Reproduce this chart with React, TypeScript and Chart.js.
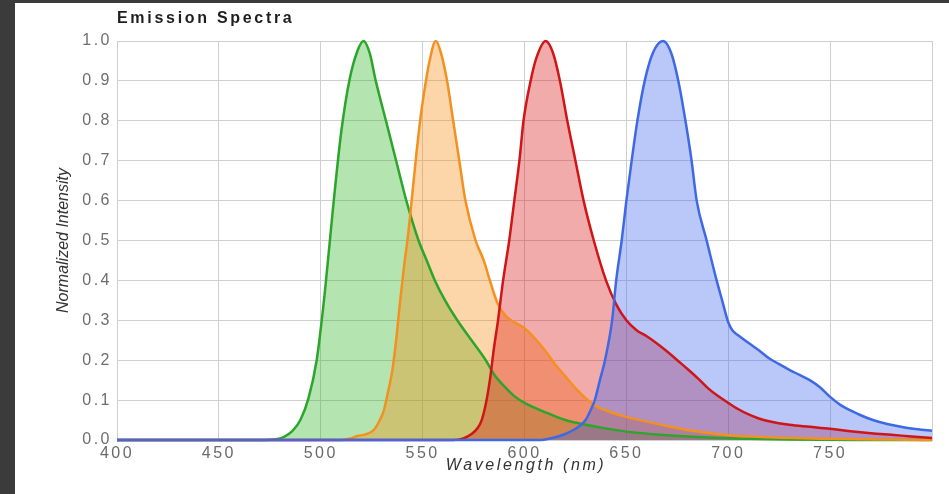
import React, { useEffect, useRef } from 'react';
import { Chart, registerables } from 'chart.js';

Chart.register(...registerables);

const TITLE = 'Emission Spectra';
const X_TITLE = 'Wavelength (nm)';
const Y_TITLE = 'Normalized Intensity';

const X_MIN = 400;
const X_MAX = 800;
const X_STEP = 50;
const Y_MIN = 0;
const Y_MAX = 1;
const Y_STEP = 0.1;

// Green series
const greenNm = [400, 470, 478, 482, 486, 490, 494, 498, 502, 506, 510, 514, 518, 521, 524, 527, 532, 537, 542, 548, 552, 556, 561, 567, 574, 581, 585, 590, 595, 600, 610, 620, 630, 640, 650, 670, 690, 710, 730, 760, 800];
const greenVal = [0, 0, 0.002, 0.008, 0.022, 0.05, 0.105, 0.2, 0.37, 0.58, 0.77, 0.9, 0.975, 1.0, 0.97, 0.9, 0.8, 0.7, 0.6, 0.5, 0.45, 0.4, 0.35, 0.3, 0.25, 0.2, 0.165, 0.135, 0.11, 0.093, 0.07, 0.05, 0.038, 0.029, 0.021, 0.012, 0.006, 0.003, 0.001, 0, 0];

// Orange series
const orangeNm = [400, 510, 514, 518, 522, 526, 529, 531, 533, 535, 537, 539, 541, 543, 545, 547, 549, 551, 553, 556.5, 559, 562, 565, 568, 571, 576, 580, 583, 587, 591, 595, 600, 605, 610, 615, 620, 625, 630, 635, 640, 650, 660, 670, 680, 690, 700, 720, 750, 780, 800];
const orangeVal = [0, 0, 0.003, 0.01, 0.014, 0.025, 0.05, 0.075, 0.12, 0.17, 0.25, 0.35, 0.44, 0.52, 0.62, 0.72, 0.81, 0.88, 0.94, 1.0, 0.97, 0.9, 0.8, 0.7, 0.6, 0.5, 0.45, 0.4, 0.34, 0.31, 0.295, 0.28, 0.255, 0.225, 0.19, 0.16, 0.13, 0.105, 0.085, 0.074, 0.058, 0.046, 0.035, 0.025, 0.018, 0.012, 0.007, 0.003, 0.001, 0];

// Red series
const redNm = [400, 565, 570, 574, 577, 579, 581, 583, 585, 587, 589.5, 592.5, 595, 597.5, 599.5, 603, 606, 610.4, 614, 617.4, 621, 625, 629, 634, 640, 645, 650, 655, 660, 665, 670, 675, 680, 685, 690, 695, 700, 705, 710, 715, 720, 730, 740, 750, 760, 770, 780, 790, 800];
const redVal = [0, 0, 0.004, 0.015, 0.03, 0.05, 0.09, 0.15, 0.23, 0.3, 0.4, 0.5, 0.6, 0.7, 0.8, 0.9, 0.96, 1.0, 0.97, 0.9, 0.8, 0.7, 0.6, 0.5, 0.4, 0.34, 0.3, 0.275, 0.26, 0.242, 0.222, 0.2, 0.178, 0.155, 0.13, 0.11, 0.093, 0.077, 0.064, 0.054, 0.047, 0.038, 0.033, 0.028, 0.022, 0.017, 0.013, 0.009, 0.005];

// Blue series
const blueNm = [400, 608, 612, 616, 620, 624, 627, 630, 632, 634.5, 637, 639.5, 643, 645, 647.7, 650, 652.6, 655.4, 659, 663, 668, 672, 675.5, 679, 682, 684.5, 689.4, 694.3, 697, 700, 702, 705, 710, 715, 720, 725, 730, 735, 740, 745, 750, 755, 760, 765, 771, 778, 786, 793, 800];
const blueVal = [0, 0, 0.003, 0.008, 0.015, 0.025, 0.035, 0.05, 0.07, 0.1, 0.15, 0.2, 0.3, 0.4, 0.5, 0.6, 0.7, 0.8, 0.9, 0.97, 1.0, 0.97, 0.9, 0.8, 0.7, 0.6, 0.5, 0.4, 0.35, 0.295, 0.275, 0.262, 0.243, 0.225, 0.205, 0.19, 0.176, 0.163, 0.15, 0.132, 0.108, 0.088, 0.074, 0.062, 0.05, 0.04, 0.032, 0.027, 0.023];

const FONT = 'Arial, "Liberation Sans", sans-serif';

function toPoints(xs: number[], ys: number[]) {
  return xs.map((x, i) => ({ x, y: ys[i] }));
}

const textPlugin = {
  id: 'customText',
  beforeDraw(chart: any) {
    (chart.ctx as any).letterSpacing = '2.5px';
  },
  afterDraw(chart: any) {
    const { ctx, chartArea } = chart;
    ctx.save();
    (ctx as any).letterSpacing = '2.7px';
    ctx.fillStyle = '#1e1e1e';
    ctx.font = `bold 16px ${FONT}`;
    ctx.textAlign = 'left';
    ctx.textBaseline = 'middle';
    ctx.fillText(TITLE, chartArea.left, 16);

    ctx.fillStyle = '#333333';
    ctx.font = `italic 16px ${FONT}`;
    ctx.textAlign = 'center';
    (ctx as any).letterSpacing = '2.6px';
    ctx.fillText(X_TITLE, (chartArea.left + chartArea.right) / 2 + 1.5, 463);

    (ctx as any).letterSpacing = '0px';
    ctx.translate(49, (chartArea.top + chartArea.bottom) / 2);
    ctx.rotate(-Math.PI / 2);
    ctx.font = `italic 16px ${FONT}`;
    ctx.fillText(Y_TITLE, 0, 0);
    ctx.restore();
  },
};

function makeDataset(xs: number[], ys: number[], line: string, fill: string, order: number) {
  return {
    data: toPoints(xs, ys),
    borderColor: line,
    backgroundColor: fill,
    borderWidth: 2.5,
    pointRadius: 0,
    fill: 'origin',
    cubicInterpolationMode: 'monotone' as const,
    clip: false as any,
    order,
  };
}

export default function App() {
  const canvasRef = useRef<HTMLCanvasElement | null>(null);

  useEffect(() => {
    if (!canvasRef.current) return;
    const chart = new Chart(canvasRef.current, {
      type: 'line',
      data: {
        datasets: [
          makeDataset(greenNm, greenVal, '#2ca52c', 'rgba(40,180,30,0.35)', 3),
          makeDataset(orangeNm, orangeVal, '#f39020', 'rgba(246,135,10,0.35)', 2),
          makeDataset(redNm, redVal, '#cf1518', 'rgba(218,15,15,0.35)', 1),
          makeDataset(blueNm, blueVal, '#3f69e4', 'rgba(55,98,235,0.35)', 0),
        ],
      },
      options: {
        responsive: false,
        animation: false,
        devicePixelRatio: 1,
        layout: { padding: { left: 0, top: 38, right: 17, bottom: 0 } },
        plugins: {
          legend: { display: false },
          tooltip: { enabled: false },
          title: { display: false },
          filler: { drawTime: 'beforeDatasetsDraw' },
        },
        scales: {
          x: {
            type: 'linear',
            min: X_MIN,
            max: X_MAX,
            afterFit: (scale: any) => {
              scale.height = 54;
            },
            ticks: {
              stepSize: X_STEP,
              padding: 4,
              color: '#6a6a6a',
              font: { size: 16, family: FONT },
              maxRotation: 0,
              autoSkip: false,
              callback: (v: any) => (Number(v) === X_MAX ? '' : String(v)),
            },
            grid: { color: '#cfcfcf', lineWidth: 1, drawTicks: false },
            border: { display: true, color: '#cfcfcf' },
          },
          y: {
            type: 'linear',
            min: Y_MIN,
            max: Y_MAX,
            afterFit: (scale: any) => {
              scale.width = 102;
            },
            ticks: {
              stepSize: Y_STEP,
              padding: 5,
              color: '#6e6e6e',
              font: { size: 16, family: FONT },
              callback: (v: any) => Number(v).toFixed(1),
            },
            grid: { color: '#cfcfcf', lineWidth: 1, drawTicks: false },
            border: { display: true, color: '#cfcfcf' },
          },
        },
      } as any,
      plugins: [textPlugin],
    });
    return () => chart.destroy();
  }, []);

  return (
    <div style={{ position: 'fixed', left: 0, top: 0, width: 949, height: 494, background: '#3b3b3b' }}>
      <div style={{ position: 'absolute', left: 15, top: 3, width: 934, height: 491, background: '#ffffff' }}>
        <canvas ref={canvasRef} width={934} height={491} style={{ display: 'block', width: 934, height: 491 }} />
      </div>
    </div>
  );
}
